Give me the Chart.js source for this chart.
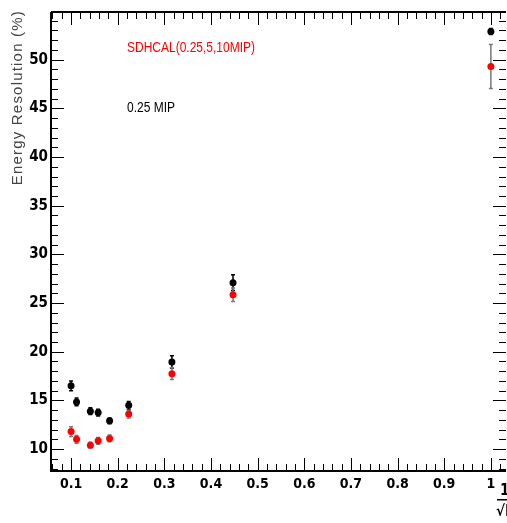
<!DOCTYPE html>
<html>
<head>
<meta charset="utf-8">
<script src="https://cdn.jsdelivr.net/npm/chart.js@4.4.1/dist/chart.umd.min.js"></script>
<style>
html,body{margin:0;padding:0;background:#fff;}
#wrap{width:507px;height:523px;position:relative;}
</style>
</head>
<body>
<div id="wrap"><canvas id="c" width="507" height="523"></canvas></div>
<script>
// 1/sqrt(E) for E = 100, 80, 50, 40, 30, 20, 10, 5, 1 GeV
const invSqrtE = [0.1, 0.1118, 0.1414, 0.1581, 0.1826, 0.2236, 0.3162, 0.4472, 1.0];
const res025 = [16.5, 14.85, 13.9, 13.75, 12.9, 14.5, 18.95, 27.1, 52.9];
const err025 = [0.5, 0.4, 0.35, 0.35, 0.3, 0.4, 0.65, 0.8, 0.3];
const resSDHCAL = [11.8, 11.0, 10.4, 10.85, 11.1, 13.6, 17.75, 25.85, 49.3];
const errSDHCAL = [0.5, 0.4, 0.3, 0.35, 0.35, 0.4, 0.6, 0.7, 2.25];
const xTickLabels = [0.1, 0.2, 0.3, 0.4, 0.5, 0.6, 0.7, 0.8, 0.9, 1];
const yTickLabels = [10, 15, 20, 25, 30, 35, 40, 45, 50];

const FONT = "'Liberation Sans Narrow', 'DejaVu Sans Condensed', Arial, sans-serif";

function pts(xs, ys){ return xs.map((x,i)=>({x:x, y:ys[i]})); }

function narrowText(ctx, txt, x, y, sx){
  ctx.save();
  ctx.translate(x, y);
  ctx.scale(sx, 1);
  ctx.fillText(txt, 0, 0);
  ctx.restore();
}

const errorBars = {
  id:'errorBars',
  beforeDatasetsDraw(chart){
    const ctx = chart.ctx, xs = chart.scales.x, ys = chart.scales.y;
    chart.data.datasets.forEach(ds=>{
      ctx.save();
      ctx.strokeStyle = ds.errColor; ctx.lineWidth = 1.5;
      ds.data.forEach((p,i)=>{
        const e = ds.errors[i];
        const px = xs.getPixelForValue(p.x);
        const y1 = ys.getPixelForValue(p.y - e), y2 = ys.getPixelForValue(p.y + e);
        ctx.beginPath();
        ctx.moveTo(px, y1); ctx.lineTo(px, y2);
        ctx.moveTo(px-2, y1); ctx.lineTo(px+2, y1);
        ctx.moveTo(px-2, y2); ctx.lineTo(px+2, y2);
        ctx.stroke();
      });
      ctx.restore();
    });
  }
};

const frame = {
  id:'frame',
  afterDraw(chart){
    const ctx = chart.ctx, xs = chart.scales.x, ys = chart.scales.y;
    const a = chart.chartArea;
    ctx.save();
    ctx.strokeStyle = '#000';
    ctx.lineWidth = 2;
    ctx.beginPath();
    ctx.moveTo(a.left, a.top); ctx.lineTo(a.left, a.bottom); ctx.lineTo(a.right+3, a.bottom);
    ctx.moveTo(a.left, a.top); ctx.lineTo(a.right+3, a.top);
    ctx.stroke();
    ctx.lineWidth = 1;
    ctx.beginPath();
    for (let v = 0.06; v <= 1.0201; v += 0.02) {
      const vv = Math.round(v*100)/100;
      const px = Math.round(xs.getPixelForValue(vv)) + 0.5;
      const major = Math.abs(vv*10 - Math.round(vv*10)) < 1e-6;
      const len = major ? 13 : 7;
      ctx.moveTo(px, a.bottom); ctx.lineTo(px, a.bottom - len);
      ctx.moveTo(px, a.top); ctx.lineTo(px, a.top + len);
    }
    for (let v = 8; v <= 54; v += 1) {
      const py = Math.round(ys.getPixelForValue(v)) + 0.5;
      const major = v % 5 === 0;
      const len = major ? 13 : 7;
      ctx.moveTo(a.left, py); ctx.lineTo(a.left + len, py);
      ctx.moveTo(a.right + 3, py); ctx.lineTo(a.right + 3 - len, py);
    }
    ctx.stroke();
    // annotations
    ctx.font = "15px 'Liberation Sans', Arial, sans-serif";
    ctx.textBaseline = 'middle';
    ctx.textAlign = 'left';
    ctx.fillStyle = '#ff0000';
    narrowText(ctx, 'SDHCAL(0.25,5,10MIP)', 127, 48, 0.8);
    ctx.fillStyle = '#000';
    narrowText(ctx, '0.25 MIP', 127, 108, 0.8);
    // y title
    ctx.save();
    ctx.translate(18, 10);
    ctx.rotate(-Math.PI/2);
    ctx.font = "15px 'Liberation Sans', Arial, sans-serif";
    ctx.fillStyle = '#444';
    ctx.textAlign = 'right';
    ctx.textBaseline = 'middle';
    try { ctx.letterSpacing = '1.2px'; } catch(e){}
    ctx.fillText('Energy Resolution (%)', 0, 0);
    ctx.restore();
    // x title 1/sqrt(E)
    ctx.font = "bold 15px " + FONT;
    ctx.fillStyle = '#000';
    ctx.textAlign = 'left';
    ctx.textBaseline = 'middle';
    ctx.fillText('1', 500, 491);
    ctx.fillRect(497, 499, 12, 1.5);
    ctx.fillText('\u221AE', 496, 512);
    ctx.restore();
  }
};

new Chart(document.getElementById('c'), {
  type:'scatter',
  data:{
    datasets:[
      {label:'0.25 MIP', data:pts(invSqrtE, res025), errors:err025, errColor:'#000',
       backgroundColor:'#000', borderColor:'#000', pointRadius:3.5, pointHoverRadius:3.5, borderWidth:0},
      {label:'SDHCAL(0.25,5,10MIP)', data:pts(invSqrtE, resSDHCAL), errors:errSDHCAL, errColor:'#777',
       backgroundColor:'#ff0000', borderColor:'#ff0000', pointRadius:3.5, pointHoverRadius:3.5, borderWidth:0}
    ]
  },
  options:{
    responsive:false, animation:false,
    devicePixelRatio:1,
    layout:{padding:{top:10, right:4, left:0, bottom:0}},
    plugins:{legend:{display:false}, tooltip:{enabled:false}},
    scales:{
      x:{
        type:'linear', min:0.057, max:1.026,
        grid:{display:false, drawTicks:false}, border:{display:false},
        afterBuildTicks(s){ s.ticks = xTickLabels.map(v=>({value:v})); },
        afterFit(s){ s.height = 52; },
        ticks:{ includeBounds:false, autoSkip:false, maxRotation:0, padding:5, color:'#000',
          font:{family:FONT, size:14, weight:'bold'},
          callback:(v)=>String(v) }
      },
      y:{
        type:'linear', min:7.75, max:54.9,
        grid:{display:false, drawTicks:false}, border:{display:false},
        afterBuildTicks(s){ s.ticks = yTickLabels.map(v=>({value:v})); },
        afterFit(s){ s.width = 51; },
        ticks:{ includeBounds:false, autoSkip:false, padding:3, color:'#000',
          font:{family:FONT, size:15, weight:'bold'},
          callback:(v)=>String(v) }
      }
    }
  },
  plugins:[errorBars, frame]
});
</script>
</body>
</html>
